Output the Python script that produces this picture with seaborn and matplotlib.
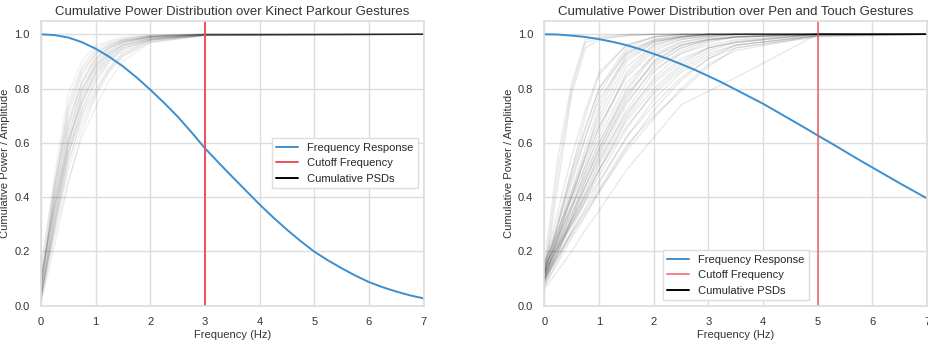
import numpy as np
import pandas as pd
import matplotlib
matplotlib.use("Agg")
import matplotlib.pyplot as plt
from matplotlib.lines import Line2D
import seaborn as sns

# ---------------- data ----------------
titles = ["Cumulative Power Distribution over Kinect Parkour Gestures",
          "Cumulative Power Distribution over Pen and Touch Gestures"]
cutoffs = [3, 5]

resp_freq = [0, 0.25, 0.5, 0.75, 1, 1.25, 1.5, 1.75, 2, 2.25, 2.5, 2.75, 3,
             3.25, 3.5, 3.75, 4, 4.25, 4.5, 4.75, 5, 5.25, 5.5, 5.75, 6,
             6.25, 6.5, 6.75, 7]
resp_left = [1.0, 0.997, 0.988, 0.971, 0.947, 0.917, 0.882, 0.841, 0.796,
             0.748, 0.697, 0.640, 0.580, 0.527, 0.475, 0.424, 0.373, 0.325,
             0.280, 0.238, 0.199, 0.167, 0.138, 0.111, 0.087, 0.068, 0.052,
             0.038, 0.027]
resp_right = [1.0, 0.999, 0.995, 0.990, 0.982, 0.972, 0.960, 0.945, 0.928,
              0.910, 0.890, 0.869, 0.846, 0.822, 0.796, 0.770, 0.744, 0.715,
              0.686, 0.657, 0.627, 0.598, 0.568, 0.538, 0.509, 0.480, 0.451,
              0.423, 0.395]

left_grid = [0, 0.25, 0.5, 0.75, 1, 1.25, 1.5, 2, 3, 7]
left_curves = [
    [0.02, 0.35, 0.62, 0.80, 0.90, 0.95, 0.975, 0.99, 0.998, 1],
    [0.05, 0.42, 0.70, 0.85, 0.93, 0.96, 0.98, 0.995, 1, 1],
    [0.08, 0.45, 0.75, 0.88, 0.95, 0.97, 0.985, 0.995, 1, 1],
    [0.10, 0.40, 0.65, 0.80, 0.88, 0.93, 0.96, 0.985, 0.998, 1],
    [0.03, 0.30, 0.55, 0.72, 0.84, 0.91, 0.95, 0.98, 0.997, 1],
    [0.06, 0.33, 0.58, 0.75, 0.86, 0.92, 0.955, 0.985, 0.998, 1],
    [0.12, 0.48, 0.78, 0.90, 0.96, 0.975, 0.99, 0.997, 1, 1],
    [0.04, 0.28, 0.50, 0.66, 0.78, 0.87, 0.93, 0.975, 0.996, 1],
    [0.07, 0.36, 0.60, 0.76, 0.87, 0.93, 0.96, 0.985, 0.998, 1],
    [0.01, 0.25, 0.46, 0.62, 0.73, 0.83, 0.90, 0.97, 0.995, 1],
    [0.09, 0.38, 0.63, 0.79, 0.89, 0.94, 0.97, 0.99, 0.999, 1],
    [0.05, 0.32, 0.56, 0.70, 0.80, 0.88, 0.93, 0.98, 0.997, 1],
    [0.15, 0.45, 0.68, 0.82, 0.91, 0.95, 0.975, 0.99, 1, 1],
    [0.02, 0.27, 0.52, 0.70, 0.82, 0.90, 0.94, 0.98, 0.997, 1],
    [0.06, 0.40, 0.67, 0.83, 0.92, 0.955, 0.975, 0.992, 1, 1],
    [0.03, 0.30, 0.53, 0.68, 0.79, 0.87, 0.92, 0.97, 0.995, 1],
    [0.08, 0.42, 0.72, 0.86, 0.93, 0.96, 0.98, 0.994, 1, 1],
    [0.04, 0.34, 0.60, 0.77, 0.88, 0.93, 0.965, 0.99, 0.998, 1],
    [0.10, 0.36, 0.57, 0.72, 0.83, 0.90, 0.945, 0.98, 0.997, 1],
    [0.02, 0.31, 0.59, 0.78, 0.89, 0.94, 0.97, 0.99, 0.999, 1],
    [0.05, 0.38, 0.66, 0.82, 0.91, 0.95, 0.97, 0.99, 0.999, 1],
    [0.03, 0.29, 0.56, 0.74, 0.86, 0.92, 0.96, 0.985, 0.998, 1],
    [0.07, 0.44, 0.73, 0.87, 0.94, 0.965, 0.98, 0.994, 1, 1],
    [0.11, 0.37, 0.61, 0.75, 0.85, 0.91, 0.95, 0.98, 0.997, 1],
    [0.01, 0.22, 0.45, 0.64, 0.77, 0.86, 0.92, 0.975, 0.996, 1],
]

right_grid = [0, 0.25, 0.5, 0.75, 1, 1.5, 2, 2.5, 3, 3.5, 5, 7]
right_curves = [
    [0.12, 0.50, 0.80, 0.97, 0.985, 0.995, 1, 1, 1, 1, 1, 1],
    [0.10, 0.45, 0.78, 0.95, 0.98, 0.995, 1, 1, 1, 1, 1, 1],
    [0.15, 0.55, 0.82, 0.98, 0.99, 1, 1, 1, 1, 1, 1, 1],
    [0.12, 0.30, 0.50, 0.70, 0.85, 0.96, 0.99, 1, 1, 1, 1, 1],
    [0.10, 0.27, 0.45, 0.62, 0.78, 0.94, 0.98, 0.995, 1, 1, 1, 1],
    [0.14, 0.30, 0.48, 0.65, 0.80, 0.95, 0.99, 1, 1, 1, 1, 1],
    [0.12, 0.28, 0.42, 0.56, 0.70, 0.90, 0.97, 0.99, 1, 1, 1, 1],
    [0.09, 0.22, 0.36, 0.50, 0.64, 0.86, 0.96, 0.99, 1, 1, 1, 1],
    [0.11, 0.24, 0.38, 0.52, 0.66, 0.85, 0.95, 0.98, 0.995, 1, 1, 1],
    [0.13, 0.25, 0.37, 0.49, 0.60, 0.80, 0.93, 0.97, 0.99, 1, 1, 1],
    [0.10, 0.21, 0.32, 0.44, 0.55, 0.74, 0.88, 0.95, 0.98, 0.99, 1, 1],
    [0.08, 0.19, 0.30, 0.41, 0.52, 0.70, 0.84, 0.93, 0.97, 0.99, 1, 1],
    [0.12, 0.22, 0.31, 0.40, 0.50, 0.68, 0.80, 0.89, 0.95, 0.97, 1, 1],
    [0.15, 0.23, 0.32, 0.41, 0.50, 0.66, 0.78, 0.87, 0.93, 0.96, 0.995, 1],
    [0.09, 0.18, 0.27, 0.36, 0.45, 0.62, 0.76, 0.86, 0.92, 0.96, 0.995, 1],
    [0.07, 0.16, 0.25, 0.33, 0.42, 0.58, 0.72, 0.83, 0.91, 0.96, 0.995, 1],
    [0.11, 0.19, 0.27, 0.35, 0.43, 0.59, 0.70, 0.79, 0.88, 0.95, 0.99, 1],
    [0.06, 0.13, 0.20, 0.28, 0.35, 0.50, 0.62, 0.74, 0.79, 0.84, 1.0, 1],
    [0.13, 0.22, 0.30, 0.38, 0.46, 0.62, 0.74, 0.84, 0.91, 0.95, 0.995, 1],
    [0.10, 0.20, 0.32, 0.44, 0.56, 0.76, 0.90, 0.96, 0.98, 0.99, 1, 1],
    [0.12, 0.26, 0.40, 0.55, 0.68, 0.88, 0.96, 0.985, 0.995, 1, 1, 1],
    [0.14, 0.32, 0.50, 0.66, 0.80, 0.93, 0.975, 0.99, 1, 1, 1, 1],
    [0.11, 0.25, 0.40, 0.55, 0.72, 0.92, 0.975, 0.99, 1, 1, 1, 1],
    [0.16, 0.28, 0.40, 0.51, 0.62, 0.82, 0.92, 0.96, 0.985, 0.995, 1, 1],
    [0.09, 0.20, 0.31, 0.42, 0.53, 0.72, 0.86, 0.94, 0.975, 0.99, 1, 1],
    [0.08, 0.20, 0.33, 0.46, 0.58, 0.79, 0.92, 0.97, 0.99, 1, 1, 1],
    [0.13, 0.27, 0.41, 0.54, 0.66, 0.84, 0.94, 0.98, 0.995, 1, 1, 1],
    [0.10, 0.23, 0.36, 0.48, 0.60, 0.78, 0.89, 0.95, 0.98, 0.99, 1, 1],
    [0.12, 0.21, 0.30, 0.39, 0.48, 0.65, 0.79, 0.88, 0.94, 0.97, 1, 1],
    [0.09, 0.25, 0.42, 0.58, 0.74, 0.93, 0.98, 0.995, 1, 1, 1, 1],
    [0.15, 0.35, 0.55, 0.72, 0.86, 0.96, 0.99, 1, 1, 1, 1, 1],
    [0.11, 0.22, 0.34, 0.46, 0.57, 0.75, 0.87, 0.93, 0.96, 0.98, 1, 1],
    [0.14, 0.24, 0.34, 0.44, 0.54, 0.71, 0.83, 0.91, 0.95, 0.97, 1, 1],
    [0.07, 0.17, 0.28, 0.39, 0.50, 0.69, 0.82, 0.90, 0.95, 0.975, 1, 1],
    [0.12, 0.30, 0.47, 0.62, 0.76, 0.91, 0.97, 0.99, 1, 1, 1, 1],
    [0.10, 0.18, 0.26, 0.34, 0.42, 0.57, 0.69, 0.80, 0.89, 0.94, 0.995, 1],
    [0.16, 0.26, 0.36, 0.47, 0.58, 0.77, 0.90, 0.96, 0.98, 0.99, 1, 1],
]

# ---------------- style ----------------
sns.set_theme(style="whitegrid")
plt.rcParams['font.family'] = ['Liberation Sans', 'DejaVu Sans']
plt.rcParams['axes.edgecolor'] = '#dddddd'
plt.rcParams['grid.color'] = '#dddddd'

BLUE = '#3b8fd0'
RED = '#f0505a'

fig = plt.figure(figsize=(9.29, 3.45), dpi=100)
ax1 = fig.add_axes([0.044, 0.114, 0.412, 0.826])
ax2 = fig.add_axes([0.586, 0.114, 0.412, 0.826])

panels = [
    (ax1, left_grid, left_curves, resp_left, 0.06, 1.0, 'center right', (1.0, 0.5)),
    (ax2, right_grid, right_curves, resp_right, 0.085, 0.7, 'lower center', (0.5, 0.0)),
]

for i, (ax, grid, curves, resp, a, ra, loc, bba) in enumerate(panels):
    rows = []
    for cid, vals in enumerate(curves):
        for f, v in zip(grid, vals):
            rows.append({'f': f, 'v': v, 'id': cid})
    df = pd.DataFrame(rows)
    sns.lineplot(data=df, x='f', y='v', units='id', estimator=None,
                 color='black', alpha=a, lw=1.0, ax=ax, legend=False)
    dfr = pd.DataFrame({'f': resp_freq, 'v': resp})
    sns.lineplot(data=dfr, x='f', y='v', color=BLUE, lw=1.4, ax=ax)
    ax.axvline(cutoffs[i], color=RED, alpha=ra, lw=1.4)
    ax.set_xlim(0, 7)
    ax.set_ylim(0, 1.05)
    ax.set_yticks([0, 0.2, 0.4, 0.6, 0.8, 1.0])
    ax.set_xticks(range(8))
    ax.tick_params(labelsize=8, colors='#333333', pad=2)
    ax.set_xlabel('Frequency (Hz)', fontsize=8, color='#333333', labelpad=2)
    ax.set_ylabel('Cumulative Power / Amplitude', fontsize=8, color='#333333', labelpad=3)
    ax.set_title(titles[i], fontsize=9.5, color='#333333', pad=4)
    for s in ax.spines.values():
        s.set_color('#dddddd')
    handles = [Line2D([], [], color=BLUE, lw=1.4),
               Line2D([], [], color=RED, lw=1.4, alpha=ra),
               Line2D([], [], color='black', lw=1.4)]
    ax.legend(handles, ['Frequency Response', 'Cutoff Frequency', 'Cumulative PSDs'],
              loc=loc, bbox_to_anchor=bba, fontsize=8, frameon=True,
              framealpha=1, edgecolor='#dddddd', fancybox=False)

fig.savefig('out.png', dpi=100)
